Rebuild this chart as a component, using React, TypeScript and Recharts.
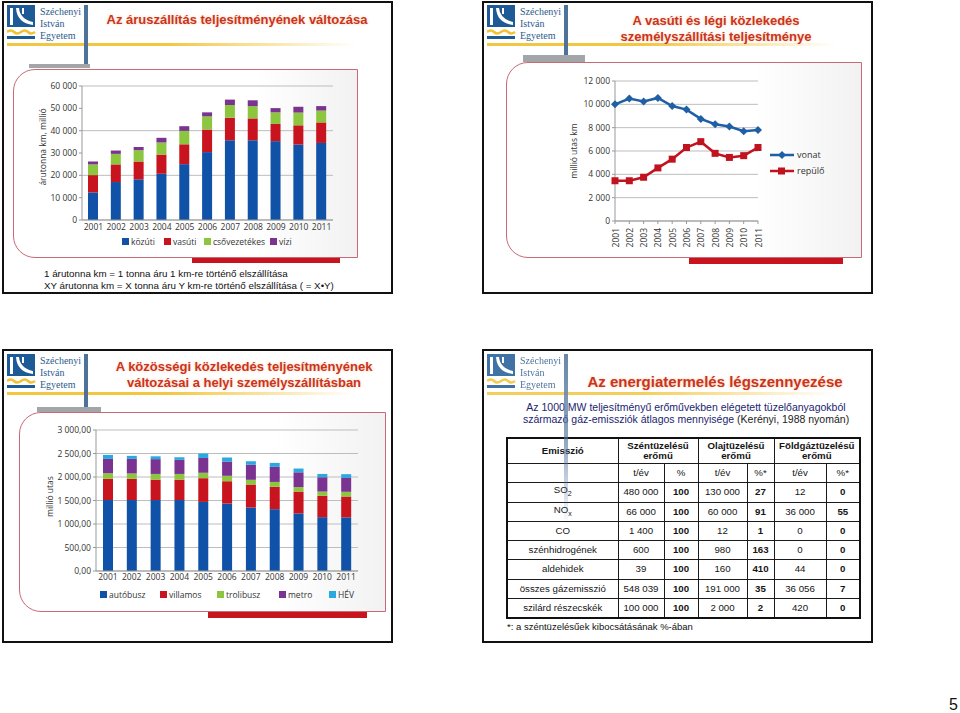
import React from 'react';
import { BarChart, Bar, LineChart, Line, XAxis, YAxis, CartesianGrid, Legend, Label } from 'recharts';

// ---------- data ----------
const years = ['2001', '2002', '2003', '2004', '2005', '2006', '2007', '2008', '2009', '2010', '2011'];

// Slide 1: freight (million tonne-km), stacked segments
const freightSeries = ['közúti', 'vasúti', 'csővezetékes', 'vízi'];
const freightRoad = [12350, 17000, 18200, 20700, 25000, 30400, 35700, 35700, 35300, 33800, 34500];
const freightRail = [7750, 7900, 8000, 8600, 8900, 10100, 10100, 9800, 7700, 8600, 9200];
const freightPipe = [4800, 4700, 5050, 5400, 6000, 5900, 5700, 5500, 5200, 5700, 5300];
const freightWater = [1300, 1500, 1450, 2100, 2100, 1800, 2400, 2600, 1900, 2600, 2000];
const freightTicks = [0, 10000, 20000, 30000, 40000, 50000, 60000];

// Slide 2: passenger-km (million)
const passengerSeries = ['vonat', 'repülő'];
const trainValues = [10000, 10500, 10250, 10550, 9850, 9550, 8750, 8300, 8100, 7700, 7800];
const planeValues = [3450, 3450, 3750, 4550, 5300, 6300, 6800, 5800, 5450, 5600, 6300];
const passengerTicks = [0, 2000, 4000, 6000, 8000, 10000, 12000];

// Slide 3: local public transport (million passengers), stacked segments
const localSeries = ['autóbusz', 'villamos', 'trolibusz', 'metro', 'HÉV'];
const busValues = [1510, 1510, 1510, 1510, 1470, 1435, 1350, 1315, 1225, 1145, 1140];
const tramValues = [450, 450, 435, 435, 505, 475, 490, 475, 465, 455, 445];
const trolleyValues = [120, 115, 120, 120, 115, 115, 100, 105, 95, 90, 100];
const metroValues = [305, 310, 315, 300, 315, 305, 320, 320, 315, 305, 295];
const suburbanValues = [85, 65, 60, 55, 95, 85, 75, 85, 80, 70, 80];
const localTicks = [0, 500, 1000, 1500, 2000, 2500, 3000];

// Slide 4: emission table
const emissionNames = ['SO', 'NO', 'CO', 'szénhidrogének', 'aldehidek', 'összes gázemisszió', 'szilárd részecskék'];
const emissionSubs = ['2', 'x', '', '', '', '', ''];
const coalTons = ['480 000', '66 000', '1 400', '600', '39', '548 039', '100 000'];
const coalPct = ['100', '100', '100', '100', '100', '100', '100'];
const oilTons = ['130 000', '60 000', '12', '980', '160', '191 000', '2 000'];
const oilPct = ['27', '91', '1', '163', '410', '35', '2'];
const gasTons = ['12', '36 000', '0', '0', '44', '36 056', '420'];
const gasPct = ['0', '55', '0', '0', '0', '7', '0'];

const freightData = years.map((y, i) => ({
  year: y,
  [freightSeries[0]]: freightRoad[i],
  [freightSeries[1]]: freightRail[i],
  [freightSeries[2]]: freightPipe[i],
  [freightSeries[3]]: freightWater[i],
}));
const passengerData = years.map((y, i) => ({ year: y, [passengerSeries[0]]: trainValues[i], [passengerSeries[1]]: planeValues[i] }));
const localData = years.map((y, i) => ({
  year: y,
  [localSeries[0]]: busValues[i],
  [localSeries[1]]: tramValues[i],
  [localSeries[2]]: trolleyValues[i],
  [localSeries[3]]: metroValues[i],
  [localSeries[4]]: suburbanValues[i],
}));

// ---------- styles ----------
const SANS = '"Liberation Sans", Arial, Helvetica, sans-serif';
const CHART = '"Open Sans", "DejaVu Sans", sans-serif';
const SERIF = '"Liberation Serif", "Times New Roman", serif';
const BLUE = '#0f52a8';
const RED = '#c8141e';
const GREEN = '#8cc63f';
const PURPLE = '#7a3391';
const CYAN = '#2aa8e0';
const TITLE = '#c9341f';

const fmtSpace = (n: number) => String(n).replace(/\B(?=(\d{3})+(?!\d))/g, ' ');
const fmtDec = (n: number) => fmtSpace(n) + ',00';

const abs = (s: React.CSSProperties): React.CSSProperties => ({ position: 'absolute', ...s });

function Logo({ px, py, vBottom, vFade, grey }: { px: number; py: number; vBottom: number; vFade?: boolean; grey?: number[] }) {
  return (
    <>
      <svg style={abs({ left: px, top: py })} width={30} height={36}>
        <rect x={0} y={0} width={28} height={22} fill="#1d5a96" />
        <rect x={3} y={3} width={3} height={17} fill="#fff" />
        <path d="M9 3 L12 3 Q13 14 26 17 L26 20 Q10 18 9 3 Z" fill="#fff" />
        <rect x={15} y={3} width={2} height={6} fill="#fff" />
        <path d="M0 27 Q4 24 7 27 T14 27 T21 27 T28 27" stroke="#f1c232" strokeWidth={2.5} fill="none" />
        <rect x={0} y={31} width={28} height={3} fill="#1d5a96" />
      </svg>
      <div style={abs({ left: px + 33, top: py + 1, fontFamily: SERIF, fontSize: 10, lineHeight: '12px', color: '#2b5b8c' })}>
        Széchenyi<br />István<br />Egyetem
      </div>
      <div style={abs({ left: px, top: py + 38, width: 350, height: 3, background: 'linear-gradient(to right, #f3c640 0%, #f3c640 45%, rgba(243,198,64,0) 100%)' })} />
      <div
        style={abs({
          left: px + 77,
          top: py,
          width: 4,
          height: vBottom - py,
          background: vFade ? 'linear-gradient(to bottom, #4e7399 0%, rgba(78,115,153,0.75) 50%, rgba(78,115,153,0) 100%)' : '#4e7399',
        })}
      />
      {grey && <div style={abs({ left: grey[0], top: grey[1], width: grey[2] - grey[0], height: grey[3] - grey[1], background: '#a3a6a9' })} />}
    </>
  );
}

function SlideBox({ x, y, w, h }: { x: number; y: number; w: number; h: number }) {
  return <div style={abs({ left: x, top: y, width: w, height: h, border: '2px solid #111', boxSizing: 'border-box', background: '#fff' })} />;
}

function Panel({ x, y, w, h, bar }: { x: number; y: number; w: number; h: number; bar: number[] }) {
  return (
    <>
      <div
        style={abs({
          left: x,
          top: y,
          width: w,
          height: h,
          border: '1px solid #c76a76',
          borderRadius: '22px 0 0 22px',
          boxSizing: 'border-box',
          background: 'linear-gradient(to right, #ffffff 0%, #ffffff 70%, #f2f2f2 100%)',
        })}
      />
      <div style={abs({ left: bar[0], top: bar[1], width: bar[2] - bar[0], height: bar[3] - bar[1], background: RED })} />
    </>
  );
}

const Title = ({ cx, top, size, lines }: { cx: number; top: number; size: number; lines: string[] }) => (
  <div
    style={abs({
      left: cx - 200,
      width: 400,
      top,
      textAlign: 'center',
      fontFamily: SANS,
      fontWeight: 'bold',
      fontSize: size,
      lineHeight: '16px',
      color: TITLE,
      textShadow: '0 0 3px rgba(255,190,140,0.7)',
      whiteSpace: 'nowrap',
    })}
  >
    {lines.map((l, i) => (
      <div key={i}>{l}</div>
    ))}
  </div>
);

const vLabel = (text: string, dx: number, dy: number, size: number) => (props: any) => {
  const vb = props.viewBox || { x: 0, y: 0, width: 0, height: 0 };
  const x = vb.x + dx;
  const y = vb.y + vb.height / 2 + dy;
  return (
    <text x={x} y={y} transform={`rotate(-90 ${x} ${y})`} textAnchor="middle" dominantBaseline="central" fontFamily={CHART} fontSize={size} fill="#333">
      {text}
    </text>
  );
};

const ordered = (payload: any[], order: string[]) =>
  [...payload].sort((a, b) => order.indexOf(String(a.value)) - order.indexOf(String(b.value)));

const squareLegend = (order: string[], widths: number[], fontSize: number) => (props: any) => {
  const payload = ordered(props.payload || [], order);
  return (
    <div style={{ display: 'flex', justifyContent: 'flex-start', alignItems: 'center', fontFamily: CHART, fontSize, color: '#333', height: 14, whiteSpace: 'nowrap' }}>
      {payload.map((p: any, i: number) => (
        <span key={i} style={{ display: 'inline-flex', alignItems: 'center', width: widths[i], flex: 'none' }}>
          <span style={{ width: 7, height: 7, background: p.color, marginRight: 2, display: 'inline-block', flex: 'none' }} />
          {p.value}
        </span>
      ))}
    </div>
  );
};

const lineLegend = (props: any) => {
  const payload = ordered(props.payload || [], passengerSeries);
  return (
    <div style={{ paddingLeft: 12, fontFamily: CHART, fontSize: 9, color: '#333' }}>
      {payload.map((p: any, i: number) => (
        <div key={i} style={{ display: 'flex', alignItems: 'center', height: 16 }}>
          <svg width={24} height={10} style={{ marginRight: 3 }}>
            <line x1={0} y1={5} x2={24} y2={5} stroke={p.color} strokeWidth={2.5} />
            {i === 0 ? (
              <polygon points="12,1 16,5 12,9 8,5" fill={p.color} />
            ) : (
              <rect x={8} y={1.5} width={7} height={7} fill={p.color} />
            )}
          </svg>
          {p.value}
        </div>
      ))}
    </div>
  );
};

const Diamond = (props: any) => {
  const { cx, cy, index } = props;
  if (cx == null || cy == null) return <g key={index} />;
  return <polygon key={index} points={`${cx},${cy - 4} ${cx + 4},${cy} ${cx},${cy + 4} ${cx - 4},${cy}`} fill="#1f5fa6" />;
};
const Square = (props: any) => {
  const { cx, cy, index } = props;
  if (cx == null || cy == null) return <g key={index} />;
  return <rect key={index} x={cx - 3.5} y={cy - 3.5} width={7} height={7} fill="#c1121f" />;
};

const RotTick = (props: any) => {
  const { x, y, payload } = props;
  return (
    <g transform={`translate(${x},${y + 2})`}>
      <text transform="rotate(-90)" textAnchor="end" dominantBaseline="central" fontFamily={CHART} fontSize={8.5} fill="#333">
        {payload.value}
      </text>
    </g>
  );
};

const tickStyle = { fontFamily: CHART, fontSize: 8.5, fill: '#333' };

function EmissionTable() {
  const colW = [111, 46, 34, 49, 27, 52, 34];
  const rowH = [20, 19, 19, 19, 20, 19, 20];
  const bd = '1.5px solid #1a1a1a';
  const cell: React.CSSProperties = { border: bd, padding: 0, textAlign: 'center', verticalAlign: 'middle' };
  return (
    <table
      style={abs({
        left: 506,
        top: 437,
        width: 353,
        borderCollapse: 'collapse',
        tableLayout: 'fixed',
        fontFamily: SANS,
        fontSize: 9.7,
        color: '#151515',
        border: '2px solid #111',
        lineHeight: '10px',
      })}
    >
      <colgroup>
        {colW.map((w, i) => (
          <col key={i} style={{ width: w }} />
        ))}
      </colgroup>
      <tbody>
        <tr style={{ height: 25 }}>
          <td style={{ ...cell, fontWeight: 'bold' }}>Emisszió</td>
          <td colSpan={2} style={{ ...cell, fontWeight: 'bold' }}>Széntüzelésű<br />erőmű</td>
          <td colSpan={2} style={{ ...cell, fontWeight: 'bold' }}>Olajtüzelésű<br />erőmű</td>
          <td colSpan={2} style={{ ...cell, fontWeight: 'bold' }}>Földgáztüzelésű<br />erőmű</td>
        </tr>
        <tr style={{ height: 19 }}>
          <td style={cell}></td>
          <td style={cell}>t/év</td>
          <td style={cell}>%</td>
          <td style={cell}>t/év</td>
          <td style={cell}>%*</td>
          <td style={cell}>t/év</td>
          <td style={cell}>%*</td>
        </tr>
        {emissionNames.map((n, i) => (
          <tr key={i} style={{ height: rowH[i] }}>
            <td style={cell}>
              {n}
              {emissionSubs[i] && <sub style={{ fontSize: 7 }}>{emissionSubs[i]}</sub>}
            </td>
            <td style={cell}>{coalTons[i]}</td>
            <td style={{ ...cell, fontWeight: 'bold' }}>{coalPct[i]}</td>
            <td style={cell}>{oilTons[i]}</td>
            <td style={{ ...cell, fontWeight: 'bold' }}>{oilPct[i]}</td>
            <td style={cell}>{gasTons[i]}</td>
            <td style={{ ...cell, fontWeight: 'bold' }}>{gasPct[i]}</td>
          </tr>
        ))}
      </tbody>
    </table>
  );
}

export default function App() {
  return (
    <div style={abs({ left: 0, top: 0, width: 960, height: 713, background: '#fff', overflow: 'hidden' })}>
      {/* ---------- Slide 1 ---------- */}
      <SlideBox x={2} y={1} w={391} h={293} />
      <Panel x={13} y={69} w={345} h={189} bar={[192, 258, 340, 263]} />
      <Logo px={7} py={5} vBottom={64} grey={[29, 64, 90, 68]} />
      <Title cx={237} top={12} size={13} lines={['Az áruszállítás teljesítményének változása']} />
      <div style={abs({ left: 20, top: 74 })}>
        <BarChart width={330} height={178} data={freightData} margin={{ top: 12, right: 17, bottom: 4, left: 0 }} barSize={10}>
          <CartesianGrid vertical={false} stroke="#bdbdbd" />
          <XAxis dataKey="year" height={14} tick={tickStyle} tickLine={false} tickSize={0} axisLine={{ stroke: '#999' }} interval={0} tickMargin={4} />
          <YAxis width={62} domain={[0, 60000]} ticks={freightTicks} tickFormatter={fmtSpace} tick={tickStyle} tickSize={3} axisLine={{ stroke: '#999' }} tickLine={{ stroke: '#999' }}>
            <Label content={vLabel('árutonna km, millió', 22, -6, 8.5)} />
          </YAxis>
          <Legend verticalAlign="bottom" height={14} wrapperStyle={{ left: 102, width: 220 }} content={squareLegend(freightSeries, [42, 40, 66, 30], 8.5)} />
          {freightSeries.map((s, i) => (
            <Bar key={s} dataKey={s} stackId="a" fill={[BLUE, RED, GREEN, PURPLE][i]} isAnimationActive={false} />
          ))}
        </BarChart>
      </div>
      <div style={abs({ left: 44, top: 268, fontFamily: SANS, fontSize: 9.8, lineHeight: '12px', color: '#111', whiteSpace: 'nowrap' })}>
        1 árutonna km = 1 tonna áru 1 km-re történő elszállítása
        <br />
        XY árutonna km = X tonna áru Y km-re történő elszállítása ( = X•Y)
      </div>

      {/* ---------- Slide 2 ---------- */}
      <SlideBox x={482} y={1} w={391} h={293} />
      <Panel x={506} y={62} w={356} h={196} bar={[689, 258, 843, 264]} />
      <Logo px={487} py={5} vBottom={55} grey={[523, 55, 585, 62]} />
      <Title cx={716} top={13} size={13} lines={['A vasúti és légi közlekedés', 'személyszállítási teljesítménye']} />
      <div style={abs({ left: 555, top: 70 })}>
        <LineChart width={300} height={185} data={passengerData} margin={{ top: 11, right: 12, bottom: 0, left: 0 }}>
          <CartesianGrid vertical={false} stroke="#bdbdbd" />
          <XAxis dataKey="year" height={34} tick={<RotTick />} tickLine={{ stroke: '#999' }} tickSize={3} axisLine={{ stroke: '#999' }} interval={0} />
          <YAxis width={60} domain={[0, 12000]} ticks={passengerTicks} tickFormatter={fmtSpace} tick={tickStyle} tickSize={3} axisLine={{ stroke: '#999' }} tickLine={{ stroke: '#999' }}>
            <Label content={vLabel('millió utas km', 18, 0, 8.5)} />
          </YAxis>
          <Legend layout="vertical" align="right" verticalAlign="middle" width={85} content={lineLegend} />
          <Line dataKey={passengerSeries[0]} stroke="#1f5fa6" strokeWidth={2.5} dot={Diamond} isAnimationActive={false} />
          <Line dataKey={passengerSeries[1]} stroke="#c1121f" strokeWidth={2.5} dot={Square} isAnimationActive={false} />
        </LineChart>
      </div>

      {/* ---------- Slide 3 ---------- */}
      <SlideBox x={2} y={349} w={391} h={294} />
      <Panel x={19} y={412} w={367} h={200} bar={[208, 612, 367, 618]} />
      <Logo px={7} py={354} vBottom={407} grey={[37, 407, 101, 412]} />
      <Title cx={244} top={359} size={13} lines={['A közösségi közlekedés teljesítményének', 'változásai a helyi személyszállításban']} />
      <div style={abs({ left: 25, top: 420 })}>
        <BarChart width={345} height={185} data={localData} margin={{ top: 10, right: 12, bottom: 2, left: 0 }} barSize={10}>
          <CartesianGrid vertical={false} stroke="#bdbdbd" />
          <XAxis dataKey="year" height={16} tick={tickStyle} tickLine={false} tickSize={0} axisLine={{ stroke: '#999' }} interval={0} tickMargin={3} />
          <YAxis width={71} domain={[0, 3000]} ticks={localTicks} tickFormatter={fmtDec} tick={tickStyle} tickSize={3} axisLine={{ stroke: '#999' }} tickLine={{ stroke: '#999' }}>
            <Label content={vLabel('millió utas', 24, -4, 8.5)} />
          </YAxis>
          <Legend verticalAlign="bottom" height={16} wrapperStyle={{ left: 75, width: 260 }} content={squareLegend(localSeries, [60, 57, 62, 50, 30], 8.5)} />
          {localSeries.map((s, i) => (
            <Bar key={s} dataKey={s} stackId="b" fill={[BLUE, RED, GREEN, PURPLE, CYAN][i]} isAnimationActive={false} />
          ))}
        </BarChart>
      </div>

      {/* ---------- Slide 4 ---------- */}
      <SlideBox x={482} y={349} w={391} h={294} />
      <Title cx={715} top={374} size={15} lines={['Az energiatermelés légszennyezése']} />
      <div style={abs({ left: 486, width: 400, top: 401, textAlign: 'center', fontFamily: SANS, fontSize: 10.5, lineHeight: '12px', color: '#1b2470', whiteSpace: 'nowrap' })}>
        Az 1000 MW teljesítményű erőművekben elégetett tüzelőanyagokból
        <br />
        származó gáz-emissziók átlagos mennyisége <span style={{ color: '#222' }}>(Kerényi, 1988 nyomán)</span>
      </div>
      <EmissionTable />
      <div style={abs({ left: 507, top: 621, fontFamily: SANS, fontSize: 9.5, color: '#111', whiteSpace: 'nowrap' })}>
        *: a széntüzelésűek kibocsátásának %-ában
      </div>
      <div style={{ opacity: 0.85 }}>
        <Logo px={487} py={354} vBottom={525} vFade />
      </div>

      <div style={abs({ left: 949, top: 696, fontFamily: SANS, fontSize: 16, color: '#111' })}>5</div>
    </div>
  );
}
